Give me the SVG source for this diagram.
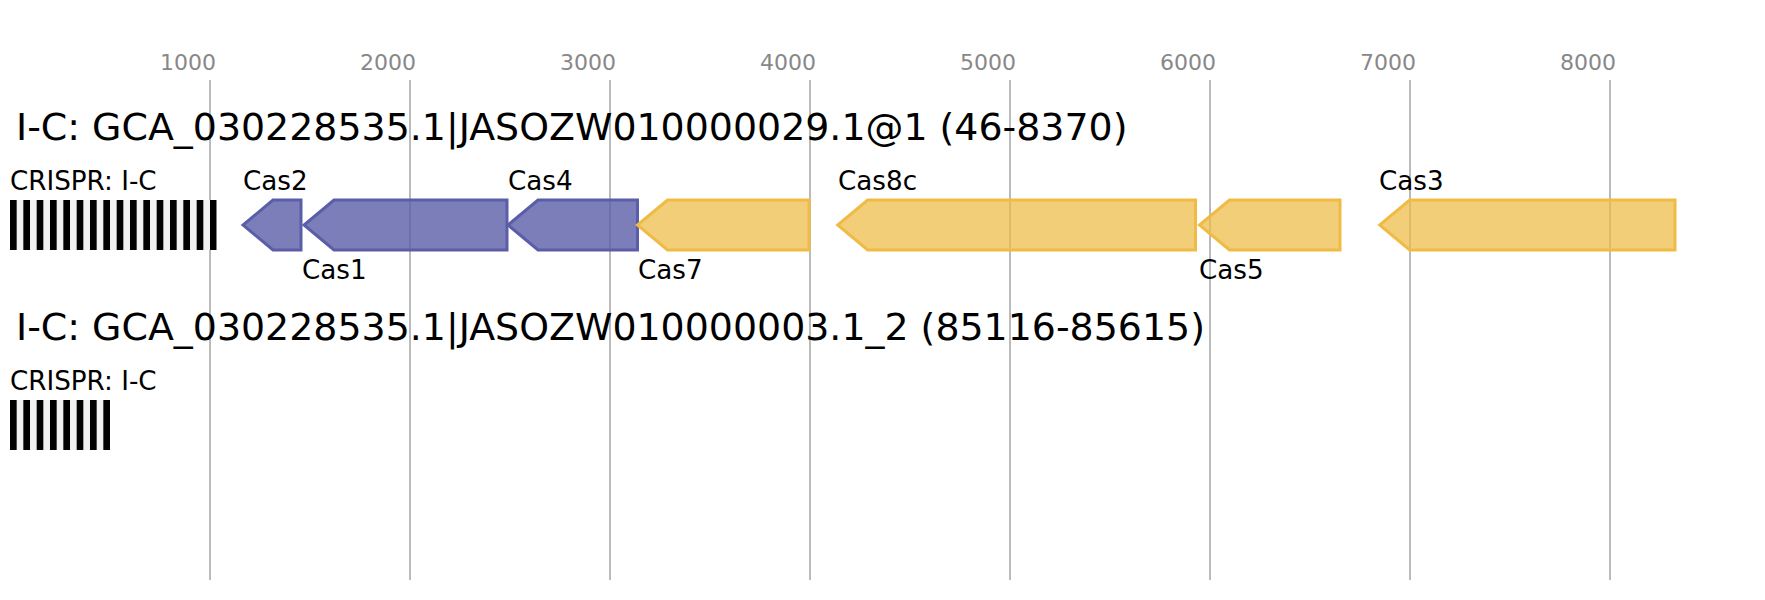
<svg xmlns="http://www.w3.org/2000/svg" width="1765" height="600" viewBox="0 0 1765 600">
<style>
text{font-family:"DejaVu Sans","Liberation Sans",sans-serif}
.grid{stroke:#bbbbbb;stroke-width:2}
.tick{font-size:22px;fill:#888888;text-anchor:middle}
.title{font-size:37.9px;fill:#000}
.lbl{font-size:26.2px;fill:#000}
.g1{fill:#5a5ea8;fill-opacity:0.8;stroke:#5a5ea8;stroke-width:3}
.g2{fill:#efbb45;fill-opacity:0.72;stroke:#efbb45;stroke-width:3}
.arr{fill:#f0f0f0}
</style>
<defs>
<pattern id="rp" x="10" y="0" width="13.333" height="600" patternUnits="userSpaceOnUse">
<rect x="0" y="0" width="6.667" height="600" fill="#000"/>
</pattern>
</defs>
<g id="axis">
<line class="grid" x1="210" y1="80" x2="210" y2="580"/>
<line class="grid" x1="410" y1="80" x2="410" y2="580"/>
<line class="grid" x1="610" y1="80" x2="610" y2="580"/>
<line class="grid" x1="810" y1="80" x2="810" y2="580"/>
<line class="grid" x1="1010" y1="80" x2="1010" y2="580"/>
<line class="grid" x1="1210" y1="80" x2="1210" y2="580"/>
<line class="grid" x1="1410" y1="80" x2="1410" y2="580"/>
<line class="grid" x1="1610" y1="80" x2="1610" y2="580"/>
<text class="tick" x="188" y="70">1000</text>
<text class="tick" x="388" y="70">2000</text>
<text class="tick" x="588" y="70">3000</text>
<text class="tick" x="788" y="70">4000</text>
<text class="tick" x="988" y="70">5000</text>
<text class="tick" x="1188" y="70">6000</text>
<text class="tick" x="1388" y="70">7000</text>
<text class="tick" x="1588" y="70">8000</text>
</g>
<g id="locus1-title"><text class="title" x="16" y="140">I-C: GCA_030228535.1|JASOZW010000029.1@1 (46-8370)</text></g>
<g id="crispr1">
<text class="lbl" x="10" y="190">CRISPR: I-C</text>
<rect class="arr" x="10" y="200" width="206.7" height="50"/>
<rect x="10" y="200" width="206.7" height="50" fill="url(#rp)"/>
</g>
<g id="cas2"><path class="g1" d="M301,200 L273,200 L243,225 L273,250 L301,250 Z"/><text class="lbl" x="243" y="190">Cas2</text></g>
<g id="cas1"><path class="g1" d="M507,200 L334,200 L304,225 L334,250 L507,250 Z"/><text class="lbl" x="302" y="279">Cas1</text></g>
<g id="cas4"><path class="g1" d="M637.5,200 L538,200 L508,225 L538,250 L637.5,250 Z"/><text class="lbl" x="508" y="190">Cas4</text></g>
<g id="cas7"><path class="g2" d="M809,200 L667.5,200 L637.5,225 L667.5,250 L809,250 Z"/><text class="lbl" x="638" y="279">Cas7</text></g>
<g id="cas8c"><path class="g2" d="M1195.5,200 L867.7,200 L837.7,225 L867.7,250 L1195.5,250 Z"/><text class="lbl" x="838" y="190">Cas8c</text></g>
<g id="cas5"><path class="g2" d="M1340,200 L1229.5,200 L1199.5,225 L1229.5,250 L1340,250 Z"/><text class="lbl" x="1199" y="279">Cas5</text></g>
<g id="cas3"><path class="g2" d="M1675,200 L1409.7,200 L1379.7,225 L1409.7,250 L1675,250 Z"/><text class="lbl" x="1379" y="190">Cas3</text></g>
<g id="locus2-title"><text class="title" x="16" y="340">I-C: GCA_030228535.1|JASOZW010000003.1_2 (85116-85615)</text></g>
<g id="crispr2">
<text class="lbl" x="10" y="390">CRISPR: I-C</text>
<rect class="arr" x="10" y="400" width="100" height="50"/>
<rect x="10" y="400" width="100" height="50" fill="url(#rp)"/>
</g>
<g id="connectors"/>
</svg>
